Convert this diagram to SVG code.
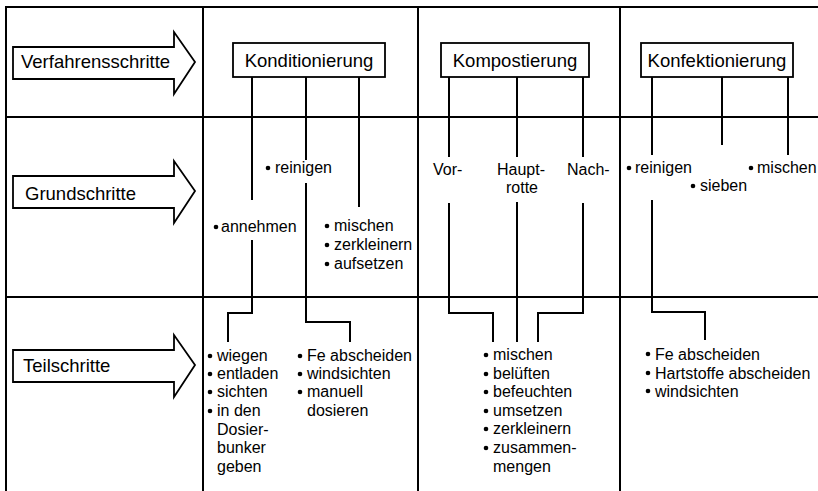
<svg xmlns="http://www.w3.org/2000/svg" width="818" height="491" viewBox="0 0 818 491">
  <style>
    .grid { stroke: #000; stroke-width: 2; fill: none; }
    .box { stroke: #000; stroke-width: 1.8; fill: #fff; }
    .arrow { stroke: #000; stroke-width: 1.8; fill: #fff; stroke-linejoin: miter; }
    .wire { stroke: #000; stroke-width: 2; fill: none; }
    .lbl { font-family: "Liberation Sans", Arial, sans-serif; font-size: 18.5px; fill: #000; }
    .item { font-family: "Liberation Sans", Arial, sans-serif; font-size: 16px; fill: #000; }
  </style>
  <defs>
    <circle id="dot" r="2.3" fill="#000"/>
    <path id="bigArrow" d="M0,15 H161 V0 L182,30 L161,62 V47 H0 Z"/>
  </defs>
  <rect width="818" height="491" fill="#fff"/>

  <!-- table grid -->
  <g id="grid" class="grid">
    <path d="M818,7 H6 V491"/>
    <path d="M6,117 H818"/>
    <path d="M6,297 H818"/>
    <path d="M203,7 V491"/>
    <path d="M418,7 V491"/>
    <path d="M620,7 V491"/>
  </g>

  <!-- row headings -->
  <g id="row-verfahrensschritte">
    <use href="#bigArrow" class="arrow" x="13" y="32"/>
    <text class="lbl" x="21" y="68">Verfahrensschritte</text>
  </g>
  <g id="row-grundschritte">
    <use href="#bigArrow" class="arrow" x="13" y="161"/>
    <text class="lbl" x="25" y="200">Grundschritte</text>
  </g>
  <g id="row-teilschritte">
    <use href="#bigArrow" class="arrow" x="13" y="335"/>
    <text class="lbl" x="23" y="372">Teilschritte</text>
  </g>

  <!-- connectors -->
  <g id="connectors" class="wire">
    <!-- Konditionierung -->
    <path d="M252,77 V200"/>
    <path d="M252,240 V313 H228 V342"/>
    <path d="M306,77 V160"/>
    <path d="M306,183 V322 H350 V342"/>
    <path d="M359,77 V207"/>
    <!-- Kompostierung -->
    <path d="M449,77 V157"/>
    <path d="M449,203 V313 H493 V342"/>
    <path d="M517,77 V157"/>
    <path d="M517,202 V342"/>
    <path d="M583,77 V157"/>
    <path d="M583,203 V313 H538 V342"/>
    <!-- Konfektionierung -->
    <path d="M652,77 V155"/>
    <path d="M652,200 V312 H705 V340"/>
    <path d="M722,77 V145"/>
    <path d="M788,77 V155"/>
  </g>

  <!-- process steps -->
  <g id="konditionierung">
    <rect class="box" x="233" y="43" width="152" height="34"/>
    <text class="lbl" x="309" y="66.5" text-anchor="middle">Konditionierung</text>
  </g>
  <g id="kompostierung">
    <rect class="box" x="441" y="43" width="148" height="34"/>
    <text class="lbl" x="515" y="66.5" text-anchor="middle">Kompostierung</text>
  </g>
  <g id="konfektionierung">
    <rect class="box" x="641" y="43" width="152" height="34"/>
    <text class="lbl" x="717" y="66.5" text-anchor="middle">Konfektionierung</text>
  </g>

  <!-- basic steps: Konditionierung -->
  <g id="gs-reinigen-1">
    <use href="#dot" x="268" y="168"/>
    <text class="item" x="275" y="173">reinigen</text>
  </g>
  <g id="gs-annehmen">
    <use href="#dot" x="216" y="227"/>
    <text class="item" x="221" y="232">annehmen</text>
  </g>
  <g id="gs-mischen-1">
    <use href="#dot" x="327" y="226"/>
    <text class="item" x="334" y="231">mischen</text>
    <use href="#dot" x="327" y="245"/>
    <text class="item" x="334" y="250">zerkleinern</text>
    <use href="#dot" x="327" y="264"/>
    <text class="item" x="334" y="269">aufsetzen</text>
  </g>

  <!-- basic steps: Kompostierung -->
  <g id="gs-vorrotte">
    <text class="item" x="433" y="175">Vor-</text>
  </g>
  <g id="gs-hauptrotte">
    <text class="item" x="521" y="175" text-anchor="middle">Haupt-</text>
    <text class="item" x="522" y="193" text-anchor="middle">rotte</text>
  </g>
  <g id="gs-nachrotte">
    <text class="item" x="567" y="175">Nach-</text>
  </g>

  <!-- basic steps: Konfektionierung -->
  <g id="gs-reinigen-2">
    <use href="#dot" x="629" y="168"/>
    <text class="item" x="635" y="173">reinigen</text>
  </g>
  <g id="gs-sieben">
    <use href="#dot" x="693" y="186"/>
    <text class="item" x="700" y="191">sieben</text>
  </g>
  <g id="gs-mischen-2">
    <use href="#dot" x="751" y="168"/>
    <text class="item" x="757" y="173">mischen</text>
  </g>

  <!-- sub-steps -->
  <g id="ts-annehmen">
    <use href="#dot" x="210" y="356"/>
    <text class="item" x="217" y="361">wiegen</text>
    <use href="#dot" x="210" y="374"/>
    <text class="item" x="217" y="379">entladen</text>
    <use href="#dot" x="210" y="392"/>
    <text class="item" x="217" y="397">sichten</text>
    <use href="#dot" x="210" y="411"/>
    <text class="item" x="217" y="416">in den</text>
    <text class="item" x="217" y="435">Dosier-</text>
    <text class="item" x="217" y="453">bunker</text>
    <text class="item" x="217" y="472">geben</text>
  </g>
  <g id="ts-reinigen-1">
    <use href="#dot" x="300" y="356"/>
    <text class="item" x="307" y="361">Fe abscheiden</text>
    <use href="#dot" x="300" y="374"/>
    <text class="item" x="307" y="379">windsichten</text>
    <use href="#dot" x="300" y="392"/>
    <text class="item" x="307" y="397">manuell</text>
    <text class="item" x="307" y="416">dosieren</text>
  </g>
  <g id="ts-rotte">
    <use href="#dot" x="486" y="355"/>
    <text class="item" x="493" y="360">mischen</text>
    <use href="#dot" x="486" y="374"/>
    <text class="item" x="493" y="379">belüften</text>
    <use href="#dot" x="486" y="392"/>
    <text class="item" x="493" y="397">befeuchten</text>
    <use href="#dot" x="486" y="411"/>
    <text class="item" x="493" y="416">umsetzen</text>
    <use href="#dot" x="486" y="429"/>
    <text class="item" x="493" y="434">zerkleinern</text>
    <use href="#dot" x="486" y="448"/>
    <text class="item" x="493" y="453">zusammen-</text>
    <text class="item" x="493" y="472">mengen</text>
  </g>
  <g id="ts-reinigen-2">
    <use href="#dot" x="648" y="354"/>
    <text class="item" x="655" y="360">Fe abscheiden</text>
    <use href="#dot" x="648" y="373"/>
    <text class="item" x="655" y="379">Hartstoffe abscheiden</text>
    <use href="#dot" x="648" y="391"/>
    <text class="item" x="655" y="397">windsichten</text>
  </g>
</svg>
